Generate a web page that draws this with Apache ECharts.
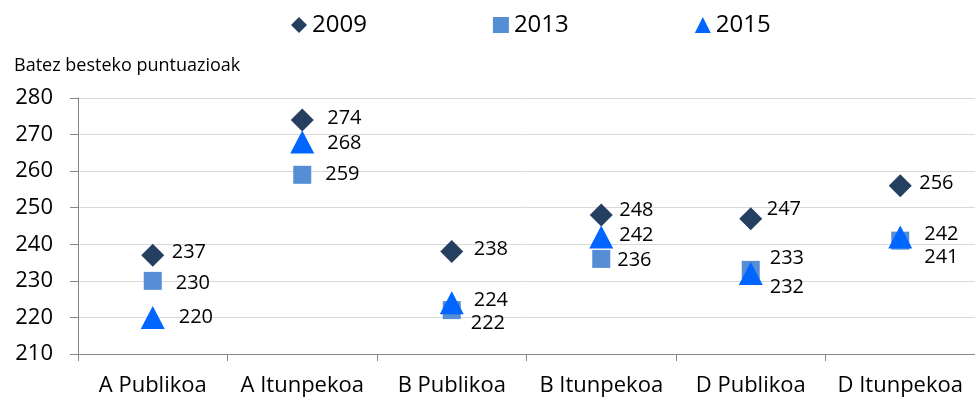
<!DOCTYPE html>
<html>
<head>
<meta charset="utf-8">
<script src="https://cdn.jsdelivr.net/npm/echarts@6/dist/echarts.min.js"></script>
<style>
  html, body { margin: 0; padding: 0; background: #fff; }
  #chart { width: 975px; height: 401px; }
</style>
</head>
<body>
<div id="chart"></div>
<script>
const categories = ['A Publikoa', 'A Itunpekoa', 'B Publikoa', 'B Itunpekoa', 'D Publikoa', 'D Itunpekoa'];
const seriesNames = ['2009', '2013', '2015'];
const values2009 = [237, 274, 238, 248, 247, 256];
const values2013 = [230, 259, 222, 236, 233, 241];
const values2015 = [220, 268, 224, 242, 232, 242];
const yTicks = [210, 220, 230, 240, 250, 260, 270, 280];
const yAxisTitle = 'Batez besteko puntuazioak';

// label placement (style only): [dx, dy] from the marker centre
const labelOffsets = {
  '2009': [[19, -3], [25, -2], [22, -2], [18, -5], [16, -9], [19, -2]],
  '2013': [[23, 2], [23, -1], [19, 13], [16, 1], [19, -12], [24, 17]],
  '2015': [[26, 0], [25, 1], [22, -3], [18, -2], [19, 14], [24, -3]]
};

const FONT = '"Open Sans", "Liberation Sans", Arial, sans-serif';
const styles = {
  '2009': { symbol: 'diamond', symbolSize: 23, color: '#243F60' },
  '2013': { symbol: 'rect', symbolSize: 18, color: '#558ED5' },
  '2015': { symbol: 'triangle', symbolSize: [24, 23], color: '#0066FF' }
};
const allValues = { '2009': values2009, '2013': values2013, '2015': values2015 };

function buildSeries(name) {
  const st = styles[name];
  return {
    name: name,
    type: 'scatter',
    symbol: st.symbol,
    symbolSize: st.symbolSize,
    itemStyle: { color: st.color, opacity: 1 },
    data: allValues[name].map((v, i) => ({
      value: [categories[i], v],
      label: { offset: labelOffsets[name][i] }
    })),
    label: {
      show: true,
      position: 'inside',
      align: 'left',
      verticalAlign: 'middle',
      color: '#000',
      fontFamily: FONT,
      fontSize: 20,
      formatter: p => String(p.value[1])
    },
    emphasis: { disabled: true }
  };
}

const chart = echarts.init(document.getElementById('chart'), null, { renderer: 'canvas' });
chart.setOption({
  animation: false,
  backgroundColor: '#fff',
  title: {
    text: yAxisTitle,
    left: 9,
    top: 52,
    textStyle: { fontFamily: FONT, fontSize: 18, fontWeight: 'normal', color: '#000' }
  },
  legend: {
    data: seriesNames.map(n => ({ name: n, icon: n === '2009' ? 'diamond' : (n === '2013' ? 'rect' : 'triangle') })),
    left: 286,
    top: 8,
    itemWidth: 16,
    itemHeight: 16,
    itemGap: 126,
    textStyle: { fontFamily: FONT, fontSize: 24, color: '#000' },
    selectedMode: false
  },
  grid: { left: 78, right: -6, top: 98, bottom: 47, containLabel: false },
  xAxis: {
    type: 'category',
    data: categories,
    boundaryGap: true,
    axisLine: { show: true, lineStyle: { color: '#868686', width: 1 } },
    axisTick: { show: true, length: 7, alignWithLabel: false, lineStyle: { color: '#868686' } },
    axisLabel: { fontFamily: FONT, fontSize: 22, color: '#000', margin: 21, interval: 0 },
    splitLine: { show: false }
  },
  yAxis: {
    type: 'value',
    min: yTicks[0],
    max: yTicks[yTicks.length - 1],
    interval: 10,
    axisLine: { show: true, lineStyle: { color: '#868686', width: 1 } },
    axisTick: { show: true, length: 8, lineStyle: { color: '#868686' } },
    axisLabel: { fontFamily: FONT, fontSize: 22, color: '#000', margin: 25 },
    splitLine: { show: true, lineStyle: { color: '#D9D9D9', width: 1 } }
  },
  series: seriesNames.map(buildSeries)
});
</script>
</body>
</html>
